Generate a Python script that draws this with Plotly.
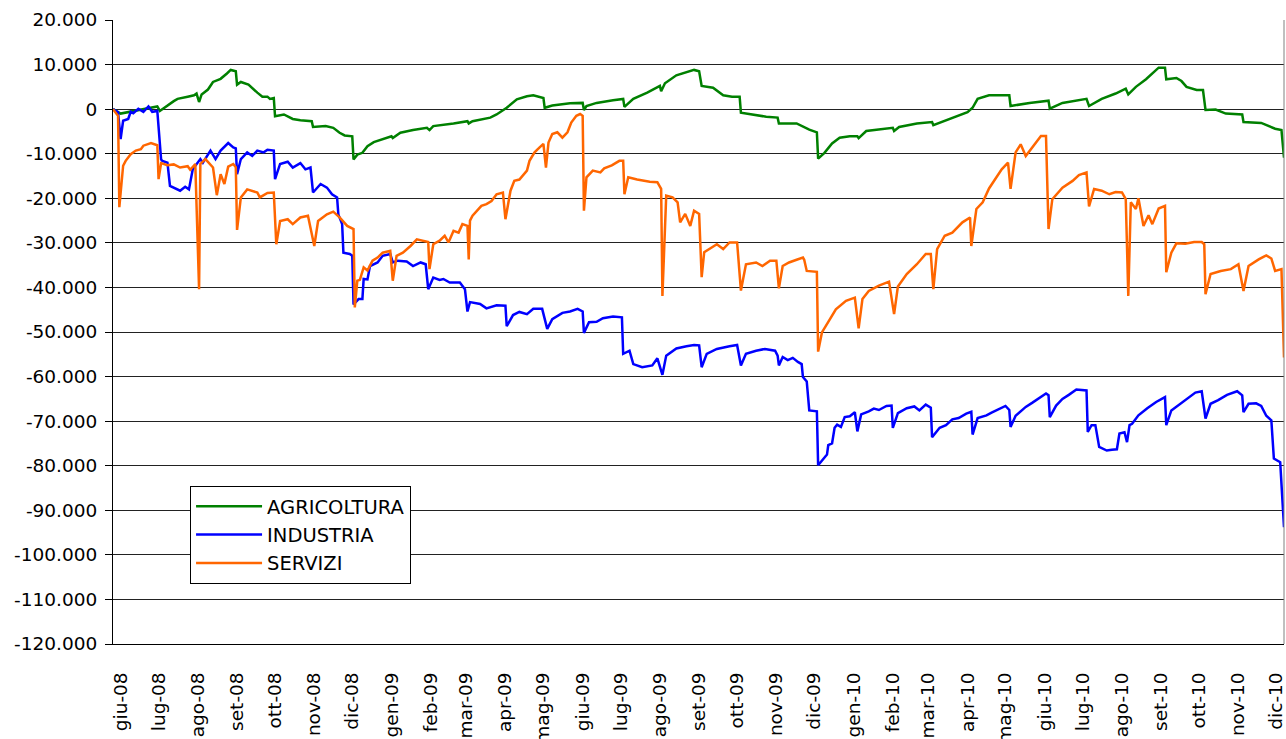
import datetime as dt
import plotly.graph_objects as go

# ---------------- data (days counted from 1 June 2008) ----------------
base_date = dt.date(2008, 6, 1)

agr_day = [-6, 0, 29, 31, 42, 45, 53, 58, 60, 62, 64, 69, 73, 79, 84, 87, 91, 92, 95, 101,
           108, 112, 116, 118, 121, 122, 129, 136, 142, 151, 152, 162, 168, 173, 177, 183, 184, 187, 191, 195,
           200, 207, 214, 215, 221, 231, 242, 244, 247, 263, 274, 275, 278, 292, 297, 305, 313, 321, 326, 334,
           335, 341, 355, 365, 366, 368, 376, 389, 397, 398, 405, 416, 426, 427, 430, 439, 447, 453, 457, 459,
           468, 476, 483, 489, 490, 499, 510, 519, 520, 534, 544, 550, 551, 556, 562, 568, 576, 582, 583, 589,
           602, 610, 611, 615, 629, 641, 642, 655, 662, 669, 673, 677, 686, 702, 703, 718, 733, 734, 744, 763,
           765, 775, 786, 794, 796, 802, 810, 815, 820, 825, 826, 834, 838, 842, 850, 855, 857, 865, 873, 886,
           887, 901, 912, 917, 919]
agr_val = [0, -1000, 600, -400, 1800, 2300, 2800, 3100, 3500, 1600, 3300, 4400, 6100, 6800, 8000, 8800, 8500, 5500, 6100, 5500,
           3700, 2800, 2800, 2300, 2500, -1600, -1200, -2200, -2500, -2700, -4000, -3800, -4200, -5300, -5900, -6100, -11300, -10200, -9800, -8300,
           -7400, -6700, -6100, -6500, -5300, -4700, -4200, -4700, -3800, -3200, -2700, -3200, -2700, -1900, -1200, 300, 2200, 2900, 3100, 2500,
           300, 800, 1300, 1400, -200, 700, 1400, 2000, 2300, 500, 2300, 3700, 5200, 4000, 5800, 7600, 8300, 8800, 8500, 5200,
           4800, 3100, 2800, 2800, -800, -1200, -1700, -1900, -3200, -3200, -4600, -5200, -11100, -9800, -7700, -6400, -6100, -6100, -6500, -4900,
           -4400, -4200, -4900, -4000, -3200, -2900, -3600, -2200, -1600, -700, 300, 2300, 3100, 3100, 700, 1400, 1900, 100, 1400, 2300,
           700, 2300, 3500, 4600, 3300, 5000, 6700, 8000, 9300, 9300, 6700, 7000, 6300, 5000, 4300, 4300, -200, -100, -1000, -1200,
           -2900, -3100, -4400, -4700, -10900]

ind_day = [-6, -2, 0, 2, 6, 8, 10, 14, 18, 22, 25, 29, 32, 33, 37, 39, 47, 51, 54, 57,
           63, 65, 71, 75, 79, 85, 89, 91, 92, 95, 100, 104, 108, 113, 116, 121, 122, 126, 132, 136,
           142, 146, 150, 152, 158, 163, 167, 171, 172, 175, 176, 181, 183, 184, 188, 191, 192, 195, 197, 203,
           207, 213, 215, 219, 226, 231, 237, 241, 243, 247, 252, 255, 260, 268, 272, 274, 276, 284, 289, 297,
           304, 305, 310, 315, 321, 326, 333, 337, 341, 349, 355, 361, 365, 366, 370, 376, 381, 389, 396, 397,
           402, 405, 412, 420, 424, 428, 431, 439, 447, 453, 457, 459, 463, 471, 481, 487, 490, 494, 502, 509,
           517, 519, 520, 523, 527, 531, 535, 538, 539, 542, 544, 550, 551, 554, 558, 559, 562, 564, 566, 569,
           572, 576, 580, 582, 585, 591, 595, 599, 605, 609, 610, 614, 621, 627, 631, 636, 640, 641, 647, 652,
           657, 662, 668, 672, 673, 677, 684, 688, 694, 699, 702, 703, 707, 715, 720, 726, 731, 733, 734, 739,
           744, 749, 755, 763, 764, 767, 770, 773, 779, 783, 787, 789, 793, 795, 797, 799, 804, 811, 818, 825,
           826, 830, 836, 844, 849, 854, 857, 861, 867, 874, 882, 886, 887, 891, 897, 901, 905, 909, 911, 916,
           919]
ind_val = [0, -700, -6700, -2600, -2200, -600, -900, 100, -600, 600, -600, -400, -11300, -11600, -12000, -17200, -18300, -17400, -18000, -13500,
           -11200, -12000, -9300, -11200, -9300, -7600, -8600, -8800, -14600, -11200, -9700, -10500, -9300, -9700, -9100, -9300, -15700, -12300, -11800, -13100,
           -12100, -13500, -13100, -18700, -16800, -17600, -19100, -19800, -23600, -25800, -32200, -32500, -32900, -43800, -42600, -42600, -38100, -38200, -35200, -34400,
           -32900, -32500, -34400, -34000, -34200, -35200, -34400, -34800, -40400, -37800, -38300, -38100, -38900, -38900, -40400, -45400, -43300, -43700, -44700, -44000,
           -44100, -48700, -46200, -45500, -46000, -44800, -44800, -49300, -47100, -45700, -45400, -44800, -45400, -50200, -47800, -47700, -46900, -46500, -46700, -54900,
           -54200, -57200, -57900, -57500, -55900, -59600, -55300, -53700, -53200, -52900, -53000, -57900, -54900, -53800, -53200, -52900, -57500, -54900, -54200, -53800,
           -54200, -55300, -57500, -55600, -56300, -55800, -56700, -57200, -60100, -61100, -67600, -67800, -79900, -78800, -77500, -75400, -75000, -71500, -70800, -71300,
           -69100, -68900, -68000, -72300, -68500, -67800, -67200, -67500, -66600, -66500, -71500, -68200, -67100, -66700, -67600, -66300, -67000, -73600, -71500, -70900,
           -69600, -69300, -68300, -67900, -73000, -69300, -68700, -68100, -67200, -66600, -67500, -71300, -68800, -66800, -65900, -64800, -63800, -64200, -69100, -66500,
           -65000, -64100, -62900, -63100, -72400, -70900, -70900, -75800, -76600, -76400, -76300, -72800, -72500, -74700, -70900, -70600, -68700, -67100, -65700, -64600,
           -70900, -67600, -66300, -64600, -63600, -63300, -69400, -66100, -65300, -64100, -63300, -64200, -68000, -66100, -66000, -66600, -68800, -69800, -78400, -79200,
           -93800]

ser_day = [-6, -2, -1, 2, 4, 8, 12, 16, 18, 24, 29, 30, 32, 37, 42, 47, 53, 55, 59, 62,
           63, 67, 73, 76, 79, 82, 85, 89, 91, 92, 95, 100, 108, 110, 116, 121, 123, 126, 132, 136,
           142, 148, 153, 156, 163, 168, 173, 179, 184, 185, 187, 189, 192, 195, 199, 203, 207, 213, 215, 218,
           223, 229, 234, 239, 243, 244, 247, 252, 256, 259, 263, 267, 270, 274, 275, 276, 278, 285, 289, 293,
           297, 302, 304, 308, 311, 315, 321, 323, 327, 331, 334, 336, 338, 341, 345, 349, 353, 356, 360, 363,
           365, 366, 368, 373, 379, 382, 388, 394, 397, 398, 401, 408, 412, 418, 424, 427, 428, 431, 436, 440,
           442, 446, 450, 453, 457, 459, 461, 465, 471, 476, 481, 487, 490, 494, 502, 507, 513, 518, 520, 523,
           528, 534, 539, 540, 542, 550, 551, 554, 560, 565, 573, 580, 583, 586, 591, 599, 607, 611, 614, 621,
           629, 636, 640, 642, 645, 651, 657, 665, 671, 672, 676, 681, 686, 692, 696, 701, 703, 707, 711, 715,
           720, 727, 731, 733, 736, 744, 752, 757, 763, 765, 769, 775, 781, 786, 791, 794, 796, 798, 802, 804,
           808, 812, 815, 820, 825, 826, 830, 834, 841, 848, 854, 856, 857, 861, 869, 877, 883, 887, 891, 899,
           905, 909, 912, 917, 919]
ser_val = [0, -1500, -22000, -12700, -11600, -10100, -9300, -9000, -8200, -7600, -8100, -15700, -12100, -12600, -12400, -13100, -12800, -13600, -12300, -40400,
           -12300, -11200, -13100, -19300, -14600, -16800, -12900, -12300, -13000, -27100, -19800, -18000, -18700, -19800, -18800, -18700, -30300, -25100, -24700, -25800,
           -24300, -23900, -30700, -25100, -23600, -23000, -24300, -26200, -26900, -44500, -38500, -38300, -35500, -36200, -34000, -33300, -32200, -31800, -38500, -32900,
           -32200, -30700, -29200, -29600, -29800, -35900, -30300, -29500, -28400, -29900, -27300, -27700, -25800, -26200, -33700, -25000, -23900, -21700, -21300, -20600,
           -19100, -18700, -24700, -18300, -16100, -15800, -13800, -11600, -9700, -8600, -7800, -13100, -7500, -5600, -5200, -6400, -5200, -3000, -1500, -1100,
           -1500, -22800, -15300, -13800, -14200, -13300, -12600, -11600, -11600, -19100, -15300, -15800, -16000, -16300, -16400, -17900, -41900, -19400, -19800, -20900,
           -25400, -23500, -26200, -22800, -23500, -37700, -32100, -31400, -30300, -31400, -29900, -29900, -40700, -34800, -34400, -35200, -34000, -34000, -40200, -35200,
           -34400, -33800, -33300, -33800, -36300, -36500, -54400, -50100, -47100, -44900, -43000, -42300, -49200, -42600, -40800, -39600, -38700, -46000, -39800, -37000,
           -34800, -32500, -32500, -40400, -31400, -28400, -27700, -25400, -24300, -30700, -22400, -20900, -17800, -15300, -13500, -12000, -17900, -9700, -7900, -10500,
           -8600, -6000, -6000, -26900, -20200, -17600, -16100, -14800, -14200, -21800, -17900, -18300, -19100, -18600, -18700, -20200, -41900, -20900, -22400, -20000,
           -26200, -23800, -25800, -22300, -21700, -36600, -32200, -30100, -30200, -29800, -29800, -30300, -41500, -37000, -36300, -35900, -34800, -40800, -35200, -33700,
           -32800, -33500, -36300, -35900, -55700]

series_names = ["AGRICOLTURA", "INDUSTRIA", "SERVIZI"]
series_colors = ["#008000", "#0000FF", "#FF6600"]

month_labels = ["giu-08", "lug-08", "ago-08", "set-08", "ott-08", "nov-08", "dic-08",
                "gen-09", "feb-09", "mar-09", "apr-09", "mag-09", "giu-09", "lug-09", "ago-09",
                "set-09", "ott-09", "nov-09", "dic-09", "gen-10", "feb-10", "mar-10", "apr-10",
                "mag-10", "giu-10", "lug-10", "ago-10", "set-10", "ott-10", "nov-10", "dic-10"]

y_tick_vals = [20000, 10000, 0, -10000, -20000, -30000, -40000, -50000, -60000, -70000,
               -80000, -90000, -100000, -110000, -120000]
y_tick_text = ["20.000", "10.000", "0", "-10.000", "-20.000", "-30.000", "-40.000", "-50.000",
               "-60.000", "-70.000", "-80.000", "-90.000", "-100.000", "-110.000", "-120.000"]


def to_dates(days):
    return [base_date + dt.timedelta(days=d) for d in days]


def month_starts(n):
    out = []
    y, m = base_date.year, base_date.month
    for _ in range(n):
        out.append(dt.date(y, m, 1))
        m += 1
        if m > 12:
            m = 1
            y += 1
    return out


tick_dates = month_starts(len(month_labels))

FONT = "DejaVu Sans"

fig = go.Figure()
for name, color, days, vals in zip(series_names, series_colors,
                                   [agr_day, ind_day, ser_day],
                                   [agr_val, ind_val, ser_val]):
    fig.add_trace(go.Scatter(x=to_dates(days), y=vals, mode="lines", name=name,
                             line=dict(color=color, width=2.5)))

x_start = dt.datetime(2008, 6, 1) - dt.timedelta(days=6)
x_end = dt.datetime(2008, 6, 1) + dt.timedelta(days=919)

fig.update_layout(
    width=1286, height=739,
    margin=dict(l=113, r=2, t=20, b=95),
    paper_bgcolor="white", plot_bgcolor="white",
    font=dict(family=FONT, size=18, color="black"),
    showlegend=True,
    legend=dict(x=0.0658, y=0.2532, xanchor="left", yanchor="top",
                bordercolor="black", borderwidth=1, bgcolor="white",
                font=dict(family=FONT, size=19.5, color="black"),
                itemwidth=66, tracegroupgap=0),
    xaxis=dict(type="date", range=[x_start, x_end], tickvals=tick_dates, ticktext=month_labels,
               tickangle=-90, showgrid=False, zeroline=False, showline=True,
               linecolor="black", linewidth=1, ticks="", ticklabelstandoff=20,
               ticklabeloverflow="allow",
               tickfont=dict(family=FONT, size=18.5, color="black"), automargin=False),
    yaxis=dict(range=[-120000, 20000], tickvals=y_tick_vals, ticktext=y_tick_text,
               showgrid=True, gridcolor="#222222", gridwidth=1, zeroline=False,
               showline=True, linecolor="black", linewidth=1, ticks="outside",
               ticklen=7, tickcolor="black", ticklabelstandoff=4,
               tickfont=dict(family=FONT, size=18.5, color="black"), automargin=False),
    shapes=[dict(type="line", xref="paper", yref="paper", x0=1, x1=1, y0=0, y1=1,
                 line=dict(color="#808080", width=1))],
)

# remove the page's default body margin so the figure fills the window exactly
fig.write_html("out.html",
               config={"displayModeBar": False},
               post_script="document.body.style.margin='0px';document.body.style.overflow='hidden';")
